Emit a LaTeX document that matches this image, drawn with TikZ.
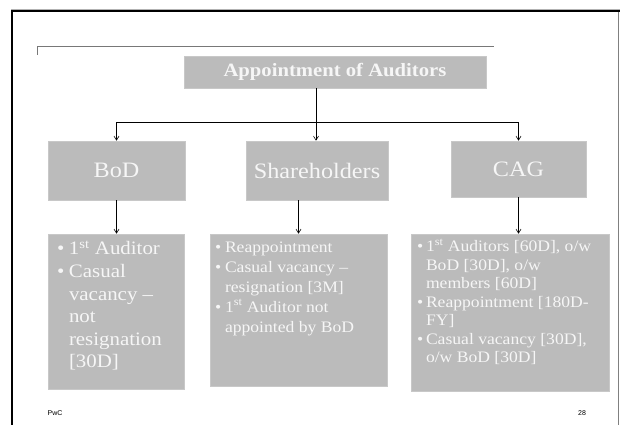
\documentclass[tikz,border=0pt]{standalone}
\usepackage{fontspec}
\setmainfont[FakeStretch=1.1]{Liberation Serif}
\newfontfamily\footfont{Liberation Sans}
\usetikzlibrary{arrows.meta}
\definecolor{boxfill}{RGB}{187,187,187}
\definecolor{boxline}{RGB}{200,200,200}
\definecolor{boxtext}{RGB}{246,246,246}
\definecolor{rulegray}{RGB}{120,120,120}
\newlength\bulw
\newcommand\bl[1]{\mbox{\makebox[\bulw][l]{\textbullet}#1}}
\newcommand\cl[1]{\mbox{\hspace*{\bulw}#1}}
\begin{document}
\begin{tikzpicture}[x=1pt,y=-1pt,
  box/.style={fill=boxfill,draw=boxline,line width=0.6pt,text=boxtext,inner sep=0pt},
  topbox/.style={box,font=\fontsize{22}{26}\selectfont},
  conn/.style={draw=black,line width=0.7pt},
  arr/.style={conn,-{Straight Barb[length=4pt,width=5pt,line width=0.6pt]}},
  foot/.style={font=\footfont\fontsize{7}{8}\selectfont,inner sep=0pt}]
\useasboundingbox (0,0) rectangle (620,425);
% slide frame
\draw[gray!60,line width=0.6pt] (11,9.3) -- (620,9.3);
\draw[black,line width=2pt] (11,11) -- (620,11);
\draw[black,line width=2pt] (12,10) -- (12,425);
\draw[gray,line width=0.8pt] (618.6,12) -- (618.6,425);
\draw[rulegray,line width=0.8pt] (37,55) -- (37,46) -- (494,46);
% title
\node[box,minimum width=302pt,minimum height=32pt,font=\bfseries\fontsize{18.8}{21}\selectfont] (title) at (335,72) {Appointment of Auditors};
% level 1
\node[topbox,minimum width=137pt,minimum height=59pt] (bod) at (116.5,170.5) {BoD};
\node[topbox,minimum width=142pt,minimum height=59pt] (sh) at (317,170.5) {Shareholders};
\node[topbox,minimum width=135pt,minimum height=56pt] (cag) at (518.5,169) {CAG};
% level 2
\node[box,inner xsep=9pt,font=\fontsize{19}{22.6}\selectfont] (bodl) at (116,311.5)
  {\parbox[c][155pt][t]{118pt}{\setlength\bulw{12pt}\vspace*{5pt}\strut\bl{1\textsuperscript{st} Auditor}\\
   \bl{Casual}\\ \cl{vacancy –}\\ \cl{not}\\ \cl{resignation}\\ \cl{[30D]}}};
\node[box,inner xsep=5pt,font=\fontsize{16}{20}\selectfont] (shl) at (298.5,310)
  {\parbox[c][152pt][t]{167pt}{\setlength\bulw{10pt}\vspace*{4pt}\strut\bl{Reappointment}\\
   \bl{Casual vacancy –}\\ \cl{resignation [3M]}\\ \bl{1\textsuperscript{st} Auditor not}\\ \cl{appointed by BoD}}};
\node[box,inner xsep=6pt,font=\fontsize{16}{18.5}\selectfont] (cagl) at (510,312.5)
  {\parbox[c][157pt][t]{186pt}{\setlength\bulw{9pt}\vspace*{5pt}\strut\bl{1\textsuperscript{st} Auditors [60D], o/w}\\
   \cl{BoD [30D], o/w}\\ \cl{members [60D]}\\ \bl{Reappointment [180D-}\\ \cl{FY]}\\
   \bl{Casual vacancy [30D],}\\ \cl{o/w BoD [30D]}}};
% connectors
\coordinate (bus) at (316,122);
\draw[conn] (title.south -| bus) -- (bus);
\draw[arr] (bus) -- (bus |- sh.north);
\draw[arr] (bus) -| (bod.north);
\draw[arr] (bus) -| (cag.north);
\draw[arr] (bod.south) -- (bod.south |- bodl.north);
\draw[arr] (sh.south -| shl.north) -- (shl.north);
\draw[arr] (cag.south) -- (cag.south |- cagl.north);
% footer
\node[foot] (pwc) at (55,413) {PwC};
\node[foot] (pg) at (582,413) {28};
\end{tikzpicture}
\end{document}
